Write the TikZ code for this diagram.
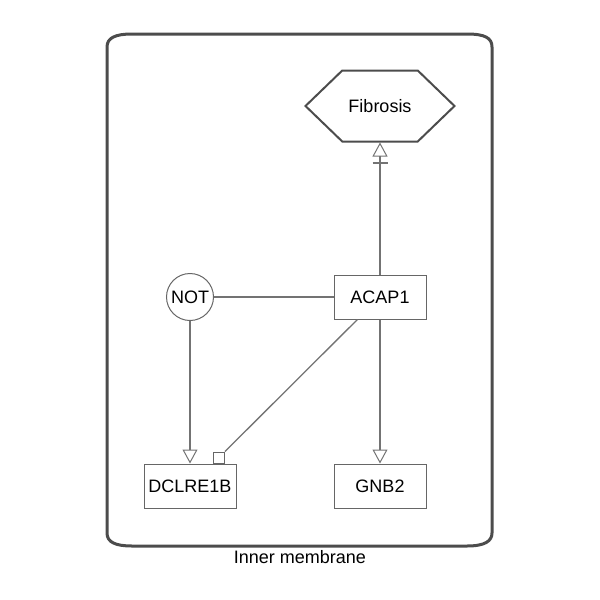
\documentclass[tikz,border=0pt]{standalone}
\usepackage{fontspec}
\setmainfont{Liberation Sans}
\usetikzlibrary{arrows.meta,shapes.symbols}

\tikzset{
  gene/.style={draw=black!60, line width=1pt, minimum width=92pt, minimum height=44pt, inner sep=0pt, font=\fontsize{18}{20}\selectfont},
  phenotype/.style={draw=black!70, line width=2pt, signal, signal to=east and west, signal pointer angle=88, minimum width=149pt, minimum height=71pt, inner sep=0pt, font=\fontsize{18}{20}\selectfont},
  logic/.style={draw=black!60, line width=1pt, circle, minimum size=47pt, inner sep=0pt, font=\fontsize{18}{20}\selectfont},
  link/.style={draw=black!55, line width=1.3pt},
  activate/.style={link, -{Triangle[open, length=14pt, width=15pt, line width=1pt]}},
  stimulate/.style={link, -{Bar[width=15pt, line width=2.5pt, sep=5pt] Triangle[open, length=14pt, width=15pt, line width=1pt]}},
  membrane/.style={draw=black!70, line width=3pt}
}

\begin{document}
\begin{tikzpicture}[x=1pt, y=-1pt]
	\useasboundingbox (0,0) rectangle (600,600);
	
	% compartment
	\draw[membrane] (107,534) -- (107,47) .. controls (107,38) and (115,34) .. (132,34) -- (467,34) .. controls (485,34) and (492,38) .. (492,47) -- (492,533) .. controls (492,541) and (485,546) .. (467,546) -- (132,546) .. controls (115,546) and (107,542) .. (107,533) -- cycle;
	\node[font=\fontsize{18}{20}\selectfont] (inner) at (300,557) {Inner membrane};
	
	\node[phenotype] (fibrosis) at (380,106) {Fibrosis};
	\node[gene] (acap) at (380,297) {ACAP1};
	\node[logic] (not) at (190,297) {NOT};
	\node[gene] (dclre) at (190,486) {DCLRE1B};
	\node[gene] (gnb) at (380,486) {GNB2};
	\node[draw=black!60, line width=1pt, minimum size=11pt, inner sep=0pt, anchor=south] (sq) at ([xshift=29pt]dclre.north) {};
	
	\path[stimulate] (acap.north) -- (fibrosis.south);
	\path[link] (acap.west) -- (not.east);
	\path[activate] (not.south) -- (dclre.north);
	\path[activate] (acap.south) -- (gnb.north);
	\path[link] (acap) -- (sq.north east);
	
\end{tikzpicture}
\end{document}
